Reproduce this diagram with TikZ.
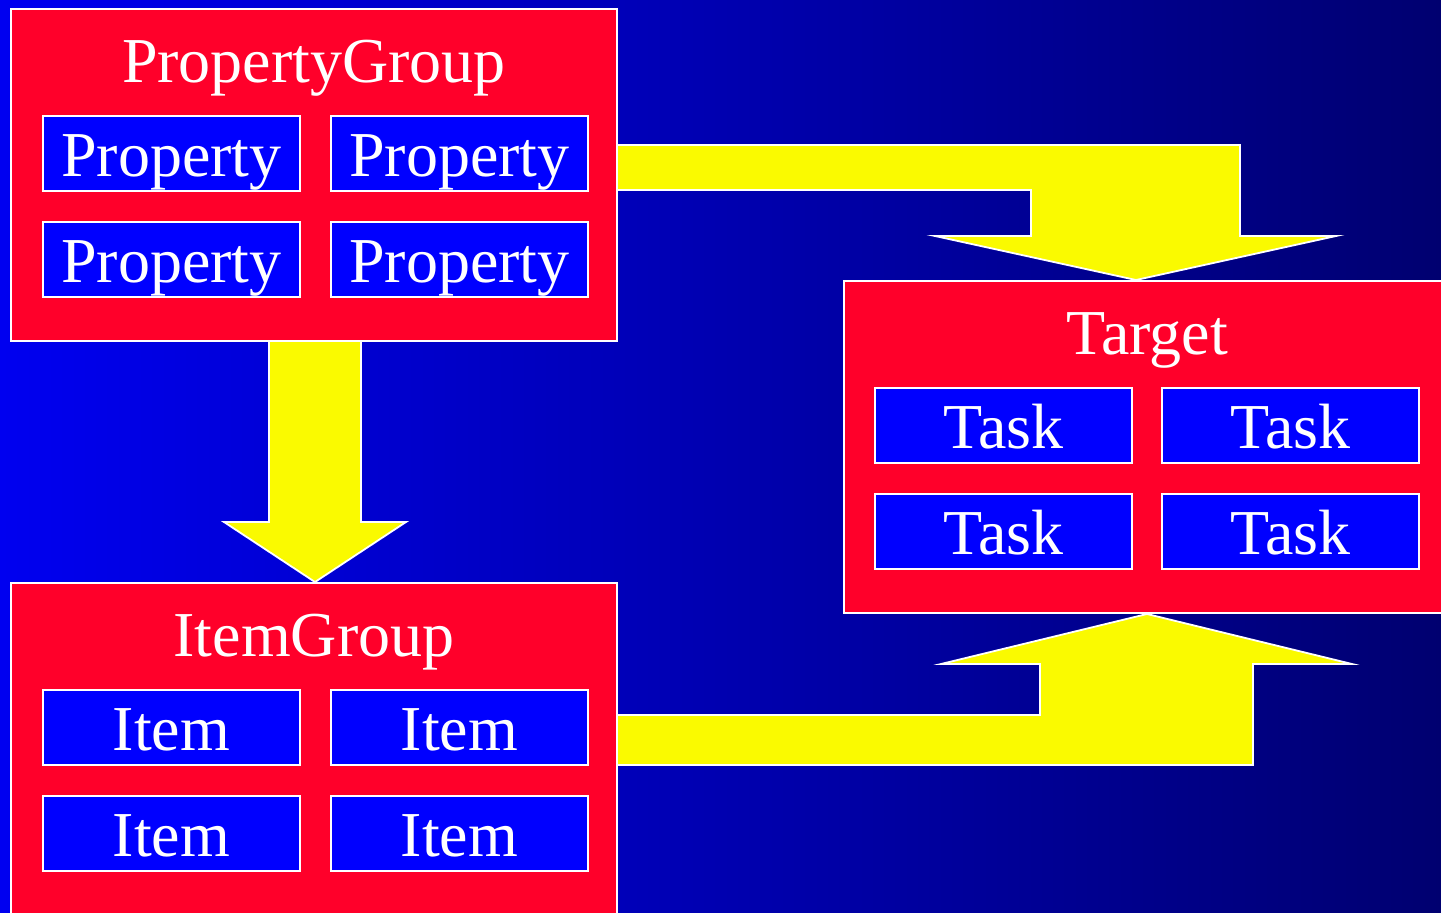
\documentclass[tikz,border=0pt]{standalone}
\usepackage{fontspec}
\setmainfont{Liberation Serif}
\usetikzlibrary{calc}
\definecolor{grpred}{RGB}{255,0,42}
\definecolor{arrowyellow}{RGB}{250,250,0}
\definecolor{boxblue}{RGB}{0,0,255}
\definecolor{bgleft}{RGB}{0,0,240}
\definecolor{bgright}{RGB}{0,0,112}
\begin{document}
\begin{tikzpicture}[x=1pt,y=-1pt,
  group/.style={draw=white, line width=1.8pt, fill=grpred, minimum width=606pt, minimum height=332pt, inner sep=0pt, outer sep=0pt, anchor=north west},
  member/.style={draw=white, line width=1.8pt, fill=boxblue, text=white, minimum width=257pt, minimum height=75pt, inner sep=0pt, text height=47pt, text depth=0pt, font=\fontsize{64}{70}\selectfont, anchor=north west},
  title/.style={text=white, font=\fontsize{64}{70}\selectfont, anchor=base, inner sep=0pt},
  bigarrow/.style={draw=white, line width=1.8pt, fill=arrowyellow, line join=miter}]
\useasboundingbox (0,0) rectangle (1441,913);
\clip (0,0) rectangle (1441,913);
\shade[left color=bgleft, right color=bgright] (0,0) rectangle (1441,913);

% PropertyGroup
\node[group] (pg) at (11,9) {};
\node[title] (pgt) at ($(pg.north)+(0,73)$) {PropertyGroup};
\node[member] (p1) at (42,115) {Property};
\node[member] (p2) at (330,115) {Property};
\node[member] (p3) at (42,221) {Property};
\node[member] (p4) at (330,221) {Property};

% ItemGroup
\node[group] (ig) at (11,583) {};
\node[title] (igt) at ($(ig.north)+(0,73)$) {ItemGroup};
\node[member] (i1) at (42,689) {Item};
\node[member] (i2) at (330,689) {Item};
\node[member] (i3) at (42,795) {Item};
\node[member] (i4) at (330,795) {Item};

% Target
\node[group] (tg) at (844,281) {};
\node[title] (tgt) at ($(tg.north)+(0,73)$) {Target};
\node[member] (t1) at (874,387) {Task};
\node[member] (t2) at (1161,387) {Task};
\node[member] (t3) at (874,493) {Task};
\node[member] (t4) at (1161,493) {Task};

% PropertyGroup -> ItemGroup
\draw[bigarrow] ($(pg.south)+(-45,0)$) -- ($(ig.north)+(-45,-61)$) -- ($(ig.north)+(-90,-61)$)
  -- ($(ig.north)+(1,-1)$) -- ($(ig.north)+(92,-61)$) -- ($(ig.north)+(47,-61)$)
  -- ($(pg.south)+(47,0)$) -- cycle;

% PropertyGroup -> Target
\draw[bigarrow] ($(pg.north east)+(0,136)$) -- ($(tg.north)+(93,-136)$) -- ($(tg.north)+(93,-45)$)
  -- ($(tg.north)+(189,-45)$) -- ($(tg.north)+(-11,-1)$) -- ($(tg.north)+(-212,-45)$)
  -- ($(tg.north)+(-116,-45)$) -- ($(tg.north)+(-116,-91)$) -- ($(pg.north east)+(0,181)$) -- cycle;

% ItemGroup -> Target
\draw[bigarrow] ($(ig.north east)+(0,132)$) -- ($(tg.south)+(-107,102)$) -- ($(tg.south)+(-107,51)$)
  -- ($(tg.south)+(-206,51)$) -- ($(tg.south)+(0,1)$) -- ($(tg.south)+(205,51)$)
  -- ($(tg.south)+(106,51)$) -- ($(tg.south)+(106,152)$) -- ($(ig.north east)+(0,182)$) -- cycle;
\end{tikzpicture}
\end{document}
